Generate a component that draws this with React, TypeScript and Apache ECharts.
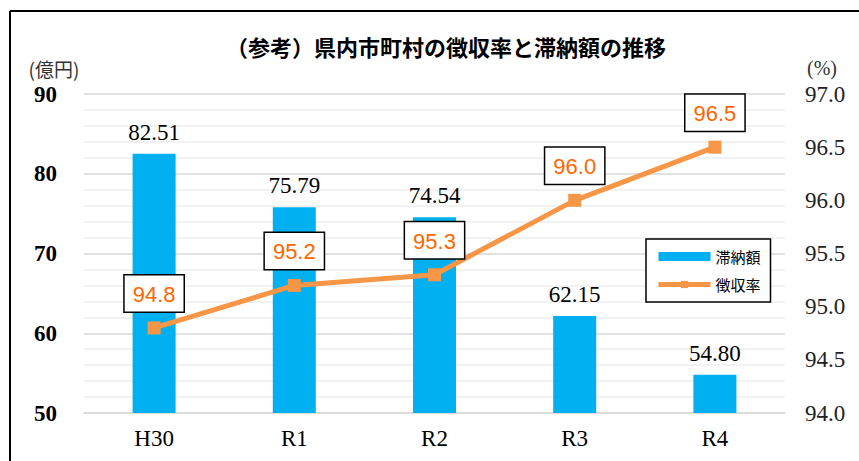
import React, { useEffect, useRef } from "react";
import * as echarts from "echarts";

const categories = ["H30", "R1", "R2", "R3", "R4"];
const arrears = [82.51, 75.79, 74.54, 62.15, 54.8];
const collectionRate = [94.8, 95.2, 95.3, 96.0, 96.5];
const titleText = "（参考）県内市町村の徴収率と滞納額の推移";
const leftUnit = "(億円)";
const rightUnit = "(%)";

export default function App() {
  const ref = useRef<HTMLDivElement>(null);
  useEffect(() => {
    if (!ref.current) return;
    const chart = echarts.init(ref.current, null, { renderer: "svg" });
    const serif = "'Liberation Serif', 'DejaVu Serif', serif";
    const sans = "'Liberation Sans', Arial, sans-serif";
    chart.setOption({
      animation: false,
      backgroundColor: "#ffffff",
      title: {
        text: titleText,
        left: 441,
        textAlign: "center",
        top: 30,
        textStyle: { fontFamily: "'Noto Sans CJK JP'", fontSize: 22, fontWeight: "bold", color: "#000" },
      },
      graphic: [
        { type: "line", shape: { x1: 10, y1: 11, x2: 859, y2: 11 }, style: { stroke: "#000", lineWidth: 2 } },
        { type: "line", shape: { x1: 10, y1: 11, x2: 10, y2: 461 }, style: { stroke: "#000", lineWidth: 2 } },
        {
          type: "text", x: 54, y: 68,
          style: { text: leftUnit, font: "19px 'Noto Sans CJK JP'", fill: "#333", align: "center", verticalAlign: "middle" },
        },
        {
          type: "text", x: 822, y: 68,
          style: { text: rightUnit, font: "20px " + serif, fill: "#333", align: "center", verticalAlign: "middle" },
        },
      ],
      legend: {
        orient: "vertical",
        left: 646,
        top: 239,
        width: 127,
        padding: [10, 10, 10, 10],
        borderColor: "#000",
        borderWidth: 1.5,
        backgroundColor: "#fff",
        itemWidth: 52,
        itemHeight: 9,
        itemGap: 13,
        textStyle: { fontFamily: "'Noto Sans CJK JP'", fontSize: 15, color: "#000" },
        data: [
          { name: "滞納額", icon: "rect" },
          { name: "徴収率", lineStyle: { width: 5, color: "#f79646" } },
        ],
      },
      grid: { left: 84, right: 74, top: 94, bottom: 48, containLabel: false },
      xAxis: {
        type: "category",
        data: categories,
        axisLine: { lineStyle: { color: "#d9d9d9", width: 1.5 } },
        axisTick: { show: false },
        axisLabel: { fontFamily: serif, fontSize: 23, color: "#000", margin: 14 },
      },
      yAxis: [
        {
          type: "value",
          min: 50,
          max: 90,
          interval: 10,
          axisLine: { show: false },
          axisTick: { show: false },
          axisLabel: { fontFamily: serif, fontSize: 23, fontWeight: "bold", color: "#000", margin: 27 },
          splitLine: { lineStyle: { color: "#d9d9d9", width: 1.5 } },
          minorTick: { show: false, splitNumber: 5 },
          minorSplitLine: { show: true, lineStyle: { color: "#eeeeee", width: 1.5 } },
        },
        {
          type: "value",
          min: 94,
          max: 97,
          interval: 0.5,
          axisLine: { show: false },
          axisTick: { show: false },
          splitLine: { show: false },
          axisLabel: {
            fontFamily: serif, fontSize: 23, color: "#222", margin: 20,
            formatter: (v: number) => v.toFixed(1),
          },
        },
      ],
      series: [
        {
          name: "滞納額",
          type: "bar",
          data: arrears,
          barWidth: 43,
          itemStyle: { color: "#00b0f0" },
          label: {
            show: true,
            position: "top",
            distance: 10,
            fontFamily: serif,
            fontSize: 23,
            color: "#000",
            formatter: (p: any) => p.value.toFixed(2),
          },
        },
        {
          name: "徴収率",
          type: "line",
          yAxisIndex: 1,
          data: collectionRate,
          lineStyle: { color: "#f79646", width: 5 },
          itemStyle: { color: "#f79646" },
          symbol: "rect",
          symbolSize: 13,
          label: {
            show: true,
            position: "top",
            distance: 10,
            fontFamily: sans,
            fontSize: 22,
            color: "#ff6600",
            backgroundColor: "#fff",
            borderColor: "#000",
            borderWidth: 1.5,
            padding: [8, 8, 6, 8],
            formatter: (p: any) => p.value.toFixed(1),
          },
        },
      ],
    });
    return () => chart.dispose();
  }, []);
  return <div ref={ref} style={{ position: "fixed", left: 0, top: 0, width: 859, height: 461 }} />;
}
